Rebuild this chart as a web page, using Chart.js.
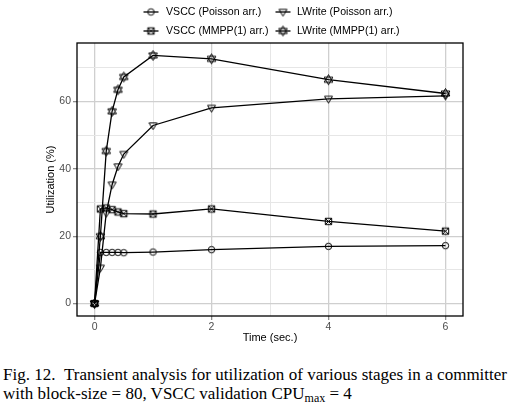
<!DOCTYPE html>
<html>
<head>
<meta charset="utf-8">
<script src="https://cdn.jsdelivr.net/npm/chart.js@4.4.0/dist/chart.umd.min.js"></script>
<style>
  body { margin: 0; background: #fff; width: 513px; height: 408px; position: relative; overflow: hidden; }
  #wrap { position: absolute; left: 0; top: 0; width: 513px; height: 349px; }
  #caption {
    position: absolute; left: 3px; top: 365px; width: 504px;
    font-family: "Liberation Serif", "Times New Roman", serif;
    font-size: 17px; line-height: 19px; color: #000;
    text-align: justify;
  }
  #caption sub { font-size: 12px; vertical-align: -3px; line-height: 0; }
  .nb { white-space: nowrap; }
</style>
</head>
<body>
<div id="wrap"><canvas id="utilChart" width="513" height="349"></canvas></div>
<div id="caption">Fig. 12.&nbsp; Transient analysis for utilization of various stages in a committer with <span class="nb">block-size</span> = 80, VSCC validation CPU<sub>max</sub> = 4</div>
<script>
// time points (sec.)
const timeSec = [0, 0.1, 0.2, 0.3, 0.4, 0.5, 1, 2, 4, 6];

// utilization (%) per stage
const vsccPoisson = [0, 15.2, 15.2, 15.2, 15.2, 15.1, 15.3, 16.0, 17.0, 17.2];
const lwritePoisson = [0, 10.6, 26.9, 35.3, 40.7, 44.4, 52.9, 58.1, 60.8, 61.7];
const vsccMmpp = [0, 28.1, 28.4, 27.9, 27.2, 26.7, 26.6, 28.1, 24.4, 21.5];
const lwriteMmpp = [0, 20.0, 45.3, 57.1, 63.5, 67.3, 73.7, 72.7, 66.5, 62.4];

const seriesLabels = ['VSCC (Poisson arr.)', 'LWrite (Poisson arr.)', 'VSCC (MMPP(1) arr.)', 'LWrite (MMPP(1) arr.)'];
const xTicks = [0, 1, 2, 3, 4, 5, 6];
const yTicks = [0, 10, 20, 30, 40, 50, 60, 70];

// ggplot-like open markers drawn on small canvases
function makeMarker(kind) {
    const s = 13;
    const c = document.createElement('canvas');
    c.width = s; c.height = s;
    const g = c.getContext('2d');
    const m = s / 2;
    g.strokeStyle = '#000';
    g.lineWidth = 1;
    g.beginPath();
    if (kind === 'circle') {
        g.arc(m, m, 3.2, 0, Math.PI * 2);
    } else if (kind === 'triDown') {
        g.moveTo(m - 4, m - 2.6);
        g.lineTo(m + 4, m - 2.6);
        g.lineTo(m, m + 4.2);
        g.closePath();
    } else if (kind === 'squareX') {
        g.rect(m - 3.2, m - 3.2, 6.4, 6.4);
        g.moveTo(m - 3.2, m - 3.2); g.lineTo(m + 3.2, m + 3.2);
        g.moveTo(m + 3.2, m - 3.2); g.lineTo(m - 3.2, m + 3.2);
    } else if (kind === 'star') {
        const r = 5;
        for (const flip of [1, -1]) {
            g.moveTo(m, m - r * flip);
            g.lineTo(m + r * 0.866, m + r * 0.5 * flip);
            g.lineTo(m - r * 0.866, m + r * 0.5 * flip);
            g.closePath();
        }
    }
    g.stroke();
    return c;
}

const markers = [makeMarker('circle'), makeMarker('triDown'), makeMarker('squareX'), makeMarker('star')];
const seriesValues = [vsccPoisson, lwritePoisson, vsccMmpp, lwriteMmpp];

const datasets = seriesValues.map((vals, i) => ({
    label: seriesLabels[i],
    data: timeSec.map((t, j) => ({ x: t, y: vals[j] })),
    showLine: true,
    borderColor: '#000',
    borderWidth: 1.3,
    pointStyle: markers[i],
    pointRadius: 4,
    pointHoverRadius: 4,
    tension: 0
}));

const tickFont = { family: 'Liberation Sans, Arial, sans-serif', size: 10.5 };
const titleFont = { family: 'Liberation Sans, Arial, sans-serif', size: 11 };

// legend in two columns + full panel border
const panelDecor = {
    id: 'panelDecor',
    afterDraw(chart) {
        const ctx = chart.ctx;
        const a = chart.chartArea;
        ctx.save();
        ctx.strokeStyle = '#000';
        ctx.lineWidth = 1.3;
        ctx.strokeRect(a.left, a.top, a.right - a.left, a.bottom - a.top);

        const keyX = [151, 283];
        const textX = [166, 297];
        const rowY = [12, 31];
        ctx.font = '10.6px "Liberation Sans", Arial, sans-serif';
        ctx.fillStyle = '#000';
        ctx.textBaseline = 'middle';
        chart.data.datasets.forEach((ds, i) => {
            const col = i % 2, row = Math.floor(i / 2);
            const kx = keyX[col], ky = rowY[row];
            ctx.beginPath();
            ctx.lineWidth = 1.3;
            ctx.moveTo(kx - 7.5, ky);
            ctx.lineTo(kx + 7.5, ky);
            ctx.stroke();
            const mk = ds.pointStyle;
            ctx.drawImage(mk, kx - mk.width / 2, ky - mk.height / 2);
            ctx.fillText(ds.label, textX[col], ky + 0.5);
        });
        ctx.restore();
    }
};

new Chart(document.getElementById('utilChart').getContext('2d'), {
    type: 'scatter',
    data: { datasets: datasets },
    options: {
        responsive: false,
        animation: false,
        layout: { padding: { top: 43, right: 50, bottom: 0, left: 0 } },
        scales: {
            x: {
                type: 'linear',
                min: -0.3,
                max: 6.3,
                afterFit: scale => { scale.height = 33; },
                afterBuildTicks: scale => { scale.ticks = xTicks.map(v => ({ value: v })); },
                border: { display: false },
                grid: {
                    color: ctx => (ctx.tick && ctx.tick.value % 2 === 0) ? '#cfcfcf' : '#e6e6e6',
                    lineWidth: ctx => (ctx.tick && ctx.tick.value % 2 === 0) ? 1.3 : 1,
                    tickColor: ctx => (ctx.tick && ctx.tick.value % 2 === 0) ? '#8c8c8c' : 'rgba(0,0,0,0)',
                    tickLength: 4
                },
                ticks: {
                    padding: 1,
                    color: '#4d4d4d',
                    font: tickFont,
                    maxRotation: 0,
                    autoSkip: false,
                    callback: v => (v % 2 === 0 ? String(v) : '')
                },
                title: {
                    display: true,
                    text: 'Time (sec.)',
                    color: '#000',
                    font: titleFont,
                    padding: { top: 0, bottom: 4 }
                }
            },
            y: {
                min: -3.7,
                max: 77.4,
                afterFit: scale => { scale.width = 77; },
                afterBuildTicks: scale => { scale.ticks = yTicks.map(v => ({ value: v })); },
                border: { display: false },
                grid: {
                    color: ctx => (ctx.tick && ctx.tick.value % 20 === 0) ? '#cfcfcf' : '#e6e6e6',
                    lineWidth: ctx => (ctx.tick && ctx.tick.value % 20 === 0) ? 1.3 : 1,
                    tickColor: ctx => (ctx.tick && ctx.tick.value % 20 === 0) ? '#8c8c8c' : 'rgba(0,0,0,0)',
                    tickLength: 4
                },
                ticks: {
                    padding: 2,
                    color: '#4d4d4d',
                    font: tickFont,
                    autoSkip: false,
                    callback: v => (v % 20 === 0 ? String(v) : '')
                },
                title: {
                    display: true,
                    text: 'Utilization (%)',
                    color: '#000',
                    font: titleFont,
                    padding: { top: 44, bottom: 0 }
                }
            }
        },
        plugins: {
            legend: { display: false },
            tooltip: { enabled: false }
        }
    },
    plugins: [panelDecor]
});
</script>
</body>
</html>
